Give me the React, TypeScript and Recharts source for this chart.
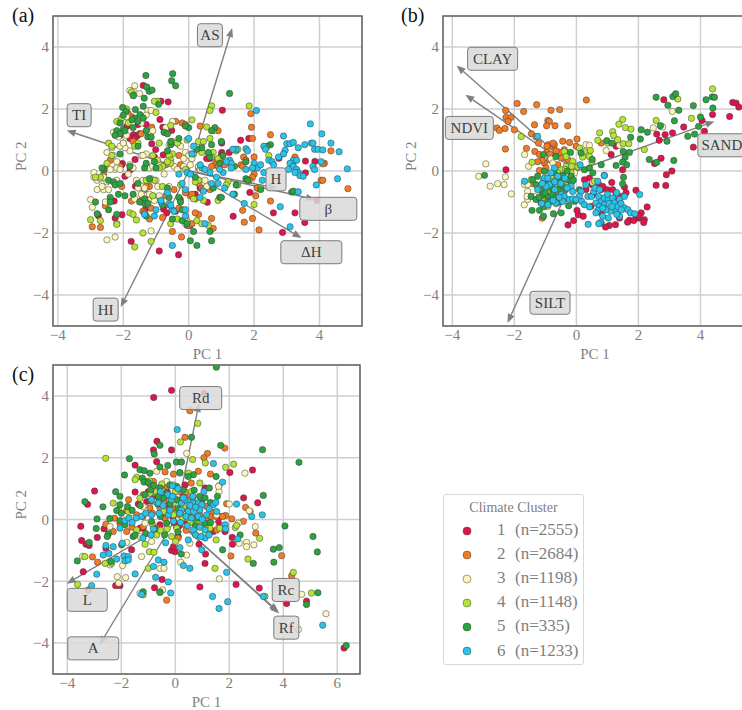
import {
  CartesianGrid,
  ReferenceArea,
  ReferenceDot,
  ReferenceLine,
  Scatter,
  ScatterChart,
  XAxis,
  YAxis,
} from "recharts";

type Pt = [number, number];

const clusterNames = ["1", "2", "3", "4", "5", "6"];
const clusterCounts = ["(n=2555)", "(n=2684)", "(n=1198)", "(n=1148)", "(n=335)", "(n=1233)"];
const clusterColors = ["#e0144c", "#f47b25", "#fdf6bd", "#b4e434", "#2ba340", "#29c4ea"];

const a1: Pt[] = [[-1.39,2.76],[-.85,2.25],[-.63,2.23],[1.03,1.96],[-.88,1.66],[-1.89,1.44],[-.79,1.41],[-.52,1.31],[-1.69,1.17],[-1.57,1.14],[-1.5,1.2],[-1.13,.88],[-1.01,.69],[-1.64,.37],[-2.03,.24],[-1.79,.04],[-.78,.52],[1.01,.9],[1.59,.99],[1.84,1.05],[1.01,.6],[1.24,.6],[.65,.4],[2.76,.41],[3.57,.32],[3.86,.31],[3.57,-.06],[1.87,-.69],[2.11,-.55],[.57,-1.01],[1.36,-1.46],[2.59,-1.35],[3.25,-1.35],[3.55,-1.66],[2.87,-1.98],[3.92,-.95],[-.9,-2.58],[-.31,-2.7],[-1.76,-2.27],[-2.28,-.97],[-2.25,-1.52],[-2.04,-1.41],[-2.76,-1.44],[-.77,-1.23],[.04,-1.76],[.43,-.62],[.35,-.55],[-1.63,-.49],[-1.95,-.17],[-1.28,-.92],[-1.33,-1.25],[-.4,-1.3],[-.67,-1.35],[-.26,-.92],[-2.1,1.15],[-1.8,1.05],[-1.65,1.05],[-1.55,1.5],[-1.3,1.5],[-1.05,.45],[-2.05,.2],[-.1,-1.55],[-.05,-1.75],[.2,-.75],[.55,.4],[1,.5]];
const a2: Pt[] = [[1.9,1.85],[1.92,1.41],[2.5,1.17],[.35,1.45],[-.4,1.6],[-.2,1.55],[-.1,1.5],[-1.13,1.41],[-1.75,1.75],[-1.85,1.85],[-.75,1.25],[.9,1.3],[1.95,1.05],[1.68,.45],[1.75,.35],[1.6,.2],[2,.45],[3.25,.45],[3.2,.3],[4.35,.65],[4.15,.25],[4.1,.23],[4.05,-.3],[4.1,-.3],[4.87,-.57],[2,-.1],[1.95,-.2],[1.85,-.3],[.3,.1],[2.05,-.8],[2.1,-.55],[2.5,-.97],[1.65,-1.27],[1.7,-1.65],[1.95,-1.53],[2.15,-1.9],[.7,-1.53],[.75,-1.85],[-.5,-1.95],[-.22,-2.13],[-2.95,-1.8],[-2.7,-1.82],[-2.55,-1.12],[-1.75,-.97],[-1.45,-.95],[-1.4,-1.3],[-1.35,-1.35],[-1.2,-1.55],[-.3,-1.2],[.05,-.8],[-.1,-.7],[.1,-.75],[.2,-.9],[.4,-.55],[.45,-.6],[.3,-1.4],[.2,-1.35],[0,-1.75],[.1,-1.7],[-.45,-.6],[-.7,-.8],[-2.6,-.1],[-2.55,.1],[-2.05,-.5],[-1.2,-.5],[-1.35,-.6],[-1.3,-.5],[-.25,.2],[.95,.35],[1,.3],[.85,.3],[1.1,.2],[.8,.2],[.65,-.6],[.9,.15],[1.25,.3],[1.65,.15],[.3,-.4],[-2.4,.35],[-2.1,.15],[-.6,-1.1],[-.8,-1.5],[-.95,-.85],[-1.15,-1.2],[-.7,.2],[-.3,.5],[.7,.15],[-2,.9],[-1.45,1.2],[-1.7,.95]];
const a3: Pt[] = [[-3,-.92],[-2.95,-1.17],[-2.9,-.2],[-2.8,-.3],[-2.9,-.05],[-2.8,-.6],[-2.6,-.6],[-2.65,-.5],[-2.55,-1],[-2.5,-.35],[-2.45,-.6],[-2.25,.05],[-2.2,.1],[-2.1,.05],[-2.2,-.3],[-2.3,.5],[-2.2,.3],[-2.5,-2.22],[-2.25,-2.13],[-1.15,-1.93],[-1.25,-.95],[-1.15,-.9],[-1.1,-.8],[-1.05,-.95],[-1.45,-.75],[-1.35,-.55],[-1.6,-.3],[-1.4,-.3],[-1.15,-.25],[-1.25,-.3],[-1,-.3],[-.95,-.5],[-1.2,.1],[-1.1,.15],[-1.45,.5],[-1.3,.55],[-1.4,.5],[-1.8,.65],[-1.95,.75],[-2.1,.8],[-1.7,2.6],[-1.8,2.6],[-1.65,2.75],[-1.5,2.5],[-1.25,1.95],[-1.15,1.95],[-1.3,1.8],[-1.9,1.75],[-1.45,1.55],[-1.1,1.3],[-.5,1.6],[-.7,1.4],[-.3,.85],[-.25,.8],[-.6,.85],[-.1,.6],[0,.5],[.1,.55],[-.15,.4],[-.45,.15],[-.35,.05],[.1,.4],[.25,.8],[.4,.9],[.3,.15],[.35,.05],[.5,-.3],[.55,-.5],[-2.3,1.25],[-2.15,1.1],[-1.9,1.15],[-2,.9],[-.6,-.5],[-1.8,.2],[-1.65,-.9],[-2.4,.05],[-2.7,-.25],[-2.6,-.2],[-1.85,-.1],[-1.7,.1],[-1.55,-.55],[-1.2,-.75],[-.9,-.8],[-.75,-.1],[-.6,.25],[-.15,.15],[.05,.2],[-2.35,.75],[-2.5,.6]];
const a4: Pt[] = [[1.85,2.1],[.7,2.1],[.65,1.95],[-.95,2.25],[-1.05,2.25],[-1,1.89],[.1,1.65],[.55,1.42],[.75,1.3],[-.55,1.47],[.65,1.05],[-.5,.9],[-.5,.95],[.3,.95],[.45,.95],[.75,.6],[.7,.45],[-.5,.55],[-.6,.5],[-.55,.35],[-.9,.9],[-2.2,1.6],[-2.05,1.7],[-1.75,2.55],[-1.7,2.45],[-1.9,2],[-2.45,.9],[-2.35,.8],[-2.35,.5],[-2.5,.25],[-2.7,-.2],[-2.85,-.2],[-3,-1.57],[-2.7,-1.6],[-2.2,-1.7],[-2.2,-1.72],[-1.8,-1.35],[-1.7,-1.4],[-1.6,-1.58],[-1.65,-2.45],[-1.4,-2],[-1.15,-2.27],[-1.1,-.8],[-1.05,-.3],[-1.2,-.3],[-1.3,-.3],[-1.1,.5],[-.8,.15],[-.95,.35],[-.05,1],[-.1,.05],[.3,-.3],[.2,-.35],[-.8,-.5],[-.35,-1.55],[-.05,-1.6],[.25,-1.6],[-.55,-1.7],[-.1,-1.7],[.4,-1.7],[.6,-1.75],[.9,-.95],[1.2,-.35],[1.5,-.45],[2,-1.08],[1.15,-.45],[1.45,.65],[1.5,.7],[2.45,.5],[2.2,-.55],[-.55,.25],[-.9,.1],[-1.55,.9],[-1.65,.8],[-1.85,1.55],[-.35,.9],[.15,.55],[.4,.6],[.9,.4],[-.65,.3],[-.25,-.45],[.15,-.9],[.45,-.95]];
const a5: Pt[] = [[-1.31,3.08],[-.49,3.14],[-.52,2.91],[-.4,2.75],[1.25,2.5],[-1.28,2.71],[-1.21,2.57],[-1.12,2.61],[-1.69,2.43],[-1.36,2.35],[-1.39,2.09],[-.92,2.15],[-2.02,2.05],[-1.92,1.92],[-1.63,1.98],[-1.49,1.82],[-1.39,1.71],[-1.65,1.7],[-2,1.8],[-1.73,1.65],[-1.55,1.6],[-2.1,1.55],[-1.7,1.4],[-2,1.35],[-2.2,1.3],[-2.1,1.2],[-2.25,1.15],[-1.95,1.3],[-1.3,1.3],[-1.25,1.1],[-1.15,1.1],[-.75,1.25],[-.65,1.2],[-.55,.85],[-.3,1.05],[0,1.4],[-.1,1.45],[.8,1.4],[.7,1.3],[.7,.85],[1,.95],[2.5,.85],[2.4,.8],[1.75,.3],[.65,.45],[.95,.25],[-1.55,.8],[-2.1,.55],[-1.35,.1],[-2.6,.05],[-2.65,.1],[-2.45,-.3],[-2.3,-.35],[-2.25,-.45],[-2.1,-.4],[-1.55,-.4],[-1.7,-.75],[-1.95,-.8],[-2.4,-.85],[-2.4,-1],[-2.45,-1.25],[-2.85,-1],[-2.8,-1.38],[-2.2,-1.4],[-1.35,-.9],[-1.35,-1.05],[-1.5,-1],[-1.25,-1.05],[-1.3,-1.45],[-.65,-.55],[-.3,-.85],[-.25,-1],[-.2,-1.25],[-.2,-1.6],[-.05,-1.7],[.15,-1.95],[.05,-2.25],[.25,-2.4],[.7,-2.25],[.65,-1.95],[.75,-.55],[.95,-.85],[1,-.85],[1.4,-.75],[1.45,-.45],[1.75,-.25],[1.8,-.3],[2.2,-.6],[3.15,-.68],[3.2,-.65],[.2,-.2],[-.55,.95],[.4,.75],[-1.2,-.25],[-1.05,.3],[-1.3,.25],[-.8,-1.1],[-.6,-.85],[-.5,-1.55],[-2.15,-.75],[-1.8,.15],[-1,.1],[-.65,.65],[.25,.7],[.6,.6],[1.05,.5],[1.4,.15]];
const a6: Pt[] = [[3.72,1.52],[4.07,1.2],[2.9,1.13],[2.07,1.95],[3.75,.9],[3.8,.9],[3,.88],[3.1,.88],[3.2,.92],[3.35,.75],[3.55,.85],[3.85,.7],[3.95,.7],[4.1,.68],[4.35,.9],[4.6,.62],[2.95,.67],[2.3,.8],[2.35,.7],[1.75,.72],[1.45,.7],[1.35,.7],[1.8,.65],[2.9,.55],[2.75,.45],[3.2,.35],[3.3,.35],[3.1,.25],[3.2,.15],[3.3,.05],[3.35,-.05],[3.4,-.15],[3.25,-.05],[3.05,.05],[3.5,-.17],[3.35,-.67],[3.9,-.45],[4.05,.3],[3.8,.15],[3.85,.05],[4.85,.07],[4.55,-.25],[2.45,.35],[2.55,.3],[2.6,.2],[2,.25],[2.1,.1],[2.2,.2],[1.95,.1],[2.3,-.05],[2.25,-.3],[1.75,.05],[1.25,.35],[1.3,.25],[1.3,.1],[1.05,-.05],[.85,-.2],[.7,-.4],[.9,-.4],[1.1,-.55],[1.35,-.75],[1.7,-1.05],[2.8,-1.15],[3.1,-1.8],[.4,.1],[.35,.2],[.15,.8],[0,1.05],[.1,.55],[-.65,-.7],[-.6,-1.05],[-.85,-1],[-.5,-1.25],[-.55,-1.1],[-.1,-.6],[-.2,-.4],[.35,-.85],[.45,-.65],[-.1,-1.25],[-.1,-1.45],[.5,-1.7],[-.5,-2.4],[-1,-1.25],[-1.05,-1.45],[-1.35,-1.4],[-.85,-.95],[-.45,-1.3],[.5,.05],[.65,-.05],[.95,.05],[1.15,.3],[-.3,-.1],[-.05,-.05],[.05,-.1]];

const b1: Pt[] = [[5.04,2.21],[5.15,2.19],[5.24,2.06],[4.94,1.76],[2.82,2.3],[4.39,1.82],[4.05,1.63],[3.46,1.42],[4.13,1.28],[3.77,.77],[3.1,1.23],[2.86,1.17],[2.59,1.19],[2.73,1.44],[2.67,.99],[2.73,.41],[2.52,.24],[3.08,0],[2.9,-.12],[2.57,-.46],[2.88,-.47],[1.92,-.62],[2.28,-1.16],[2.19,-1.57],[2.17,-1.66],[2.03,-1.52],[1.92,-1.52],[1.71,-1.59],[1.26,-1.73],[1.06,-1.76],[.94,-1.81],[-.27,-1.74],[-.09,-1.6],[.22,-1.46],[.06,-1.41],[.02,-1.27],[.47,-1.14],[.8,-1.35],[-2.27,.04],[1.12,.53],[1.28,.8],[1.55,-.52],[.99,-.6],[1.17,-.6],[1.28,-.71],[1.14,-.37],[.9,-.14],[.42,-.23],[.26,-.28],[.5,-.44],[.31,-.6],[.8,-.6],[1.49,.04],[1.44,-.82],[1.23,-.92],[1.39,-1.52],[.8,-1.68],[2.09,-1.35],[.7,-.4],[.85,-.5],[.55,-.75],[.7,-1.05],[1.65,-1.65],[1.85,-1.6],[2,-1.45],[1.6,-.7]];
const b2: Pt[] = [[.32,2.29],[-1.91,2.18],[-1.28,2.14],[-.82,1.96],[-.54,1.98],[-1.7,1.92],[-2.28,1.95],[-2.27,1.73],[-2.11,1.73],[-2.2,1.6],[-2.56,1.39],[-2.48,1.31],[-2.3,1.37],[-2,1.33],[-1.35,1.49],[-.92,1.63],[-.87,1.6],[-.96,1.46],[-.69,1.46],[-.28,1.46],[-1.45,1.2],[-1.22,.9],[-2.29,.71],[-1.61,.73],[-.82,.8],[-.71,.85],[-.44,.96],[-.22,.92],[.02,1.03],[-.01,.8],[-1.34,.63],[-1.19,.53],[-.95,.6],[-.87,.37],[-1.03,.26],[-1.19,.02],[-.98,.1],[-.39,.69],[-.49,.42],[-.28,.37],[.8,.9],[-1.1,-1.52],[-1.45,-.4],[-1.3,1.1],[-.9,.85],[-.6,.2],[-.7,.5],[-.85,.55],[-.55,.6],[-.95,.8],[-.75,.9],[-1.1,.35],[-1.25,.3],[-.65,.65]];
const b3: Pt[] = [[-2.92,.23],[-3.15,-.17],[-2.29,-.19],[-2.54,-.41],[-2.33,-.44],[-2.78,-.49],[-2.1,-.74],[-1.67,.53],[-1.54,.15],[-1.67,-.44],[-1.57,-.66],[-1.68,-1.09],[-1.57,-.92],[-1.35,-.82],[-.82,.39],[-.76,.26],[.31,.85],[.42,.83],[.96,.66],[1.39,.83],[3.09,1.92],[2.48,1.39],[2.78,1.42],[-1.57,-.44],[-1.59,-.82],[.53,-.37],[-.06,-.06]];
const b4: Pt[] = [[4.39,2.65],[3.27,2.32],[3.71,1.7],[2.57,1.63],[1.49,1.66],[1.37,1.51],[1.58,1.4],[1.76,1.35],[.75,1.23],[1.17,1.27],[1.2,1.14],[1.33,1.01],[1.51,.88],[1.69,.88],[.69,.99],[1.01,.9],[2.19,.69],[-1.78,1.11],[-1.43,.28],[-.39,.63],[.1,.74],[.26,.63],[.45,.66],[.42,.47],[-.12,.31],[-.33,.47],[-.49,.04],[-.6,-.06],[-.44,-.17],[-.66,-.28],[-.82,-.17],[-.92,-.28],[-.28,-.33],[-.71,-.49],[-.87,-.71],[-1.03,-.66],[-1.14,-.82],[-.76,-.92],[-.55,-.76],[-.92,-1.14],[-.17,-.06],[-.33,.15],[.04,.15],[.58,-.33],[-1.46,-.28],[-.5,-.55],[-.65,-.65],[-.8,-.45],[-1,-.55],[-.95,-.9],[-.65,-1.05],[-.45,-.95],[-.35,-.4],[-.15,-.35],[-.55,-.35],[-.35,.05],[-.15,.15],[.2,.45],[.5,.3]];
const b5: Pt[] = [[-2.96,-.14],[2.57,2.38],[3.11,2.4],[3.2,2.49],[2.95,2.12],[3.3,1.96],[3.77,2.11],[4.18,2.3],[4.38,2.39],[4.45,2.38],[4.4,2.03],[4,1.74],[3.16,1.62],[2.71,1.46],[3.94,1.44],[3.59,1.12],[3.81,1.19],[2.92,.96],[2.29,1.25],[2.09,1.33],[2.06,1.03],[1.75,1.09],[.98,.98],[1.14,.9],[1.51,.63],[1.71,.6],[1.57,.44],[1.62,.2],[1.49,.29],[1.28,.18],[2.35,.37],[2.59,.28],[3.14,.34],[1.52,-.2],[1.49,-.41],[.8,.2],[.51,.37],[.15,.58],[-.19,.6],[-1.06,.53],[-.66,.47],[.26,.04],[.42,.1],[.53,-.06],[-1.41,-.28],[-1.25,-.17],[-1.03,-.01],[-1.3,-.44],[-1.46,-.82],[-1.3,-.92],[-1.43,-1.27],[-1.19,-1.27],[-1.06,-1.46],[-.74,-1.38],[-.49,-1.35],[-.25,-1.12],[-.06,-.98],[-1.14,-.6],[-.92,-.82],[-.76,-.6],[-.6,-.6],[-.44,-.49],[-.28,-.28],[-.17,-.17],[-.55,-.17],[-.71,-.06],[-1.14,-1.03],[-.92,-.98],[-1.09,-.76],[-.76,-.76],[.1,-.6],[-1,-.4],[-.85,-.5],[-.7,-.35],[-.5,-.35],[-.35,-.6],[-.65,-.85],[-.85,-1],[-1.05,-1.15],[-1.2,-.85],[-1,-.7],[-.55,-1],[-.35,-.9],[-.2,-.5],[-1.05,-.3],[-.45,-.15],[-.3,0],[-.1,-.3]];
const b6: Pt[] = [[-1.67,-.33],[-1.25,1.12],[.12,.2],[-.71,.1],[-.82,-.06],[-1.03,-.23],[-.92,-.23],[-.87,-.44],[-1.25,-.6],[-.98,-.49],[-.6,-.17],[-.37,-.23],[-.17,-.49],[-.12,-.66],[-.49,-.76],[-.39,-.82],[-.23,-.92],[-.12,-.9],[-1.12,-1.05],[-.92,-1.09],[-.66,-1.03],[-.44,-.98],[.15,-.66],[.1,-.82],[-.01,-.92],[.17,-.98],[.26,-1.09],[.42,-1.16],[.37,-.82],[.49,-.82],[.69,-.33],[.9,-.15],[.56,-.66],[.72,-.82],[.8,-.98],[.9,-.87],[1.03,-.92],[1.17,-.87],[.63,-1.03],[.74,-1.14],[.9,-1.09],[1.05,-1.05],[1.23,-1.03],[1.39,-.92],[1.55,-.82],[2.04,-.76],[.69,-1.27],[.63,-1.35],[.85,-1.46],[1.03,-1.52],[1.23,-1.25],[1.33,-1.14],[1.44,-1.05],[1.55,-1.19],[1.66,-1.25],[1.74,-1.35],[1.88,-1.38],[1.39,-1.46],[.78,-1.66],[.72,-1.7],[.38,-1.72],[-.7,-.35],[-.5,-.4],[-.3,-.55],[-1.1,-.4],[-.7,-.6],[-.55,-.85],[-.75,-.95],[.6,-.55],[.3,-.45],[.75,-.6],[1,-.75],[1.3,-.7],[1.3,-1.4],[1.1,-1.3],[.95,-1.25],[.85,-1.2],[1.45,-1.25],[1.15,-1.15]];

const c1: Pt[] = [[-.14,4.18],[-.8,3.95],[1.07,4.08],[-.68,2.53],[-.81,2.25],[-.14,2.25],[-.69,1.87],[-1.49,1.76],[2.86,1.6],[2.02,1.52],[-2.99,.92],[-3.25,.49],[-1.37,.5],[-1.49,.89],[2.53,.7],[3.05,.54],[-3.5,-.22],[-3.47,-.68],[-3.31,-.8],[-3.19,-.84],[-2.89,-.58],[-2.64,-.3],[-3.41,-1.69],[-2.21,-2.14],[-2.05,-2.14],[-.77,-2.21],[-.49,-1.94],[.91,-2.18],[2.25,-2.1],[3.11,-2.22],[4.12,-2.72],[4.86,-2.64],[6.25,-4.16],[-.14,-1],[-.01,-1.04],[1.1,-1.42],[1.12,-1.12],[2.11,-.58],[2.12,-.8],[.88,-.8],[-1.31,-.28],[-.32,.26],[-.2,.2],[.05,-.23],[.11,-.55],[-.07,-.88],[1.65,.1],[1.1,1.02],[.36,1.12],[-.44,.69],[-1.06,.58],[-1.62,-.98],[-2.57,-.93],[1.84,-.39],[1.41,-.39],[-.57,-.17],[-1.19,-.28],[.36,-.06],[-.26,.48],[-.1,.1],[-.05,-.1],[.15,-.2],[-.4,.05],[.3,.8],[-.8,.7],[-1,.9],[-.3,.9],[1.25,.1],[1.6,-.1]];
const c2: Pt[] = [[.54,3.52],[.36,2.66],[1.83,2.31],[1.19,2.14],[1.06,2],[.85,1.56],[1.3,1.47],[-.38,1.54],[-.07,1.47],[-.81,1.23],[.59,1.18],[-1.73,.64],[-1.8,.29],[-2.25,.04],[-2.57,-.15],[-2.3,-.39],[-3.07,-1.21],[-2.88,-1.38],[-3.22,-2.28],[-.32,-2.61],[2.6,.39],[1.9,.51],[2.77,.26],[2.52,-.06],[2.98,-.44],[2.06,-1.18],[3.94,-1.17],[4.31,-1.82],[2.09,.02],[1.86,.13],[1.41,.23],[1.16,.42],[1.16,.04],[.91,.15],[-.94,.37],[-1.06,1.23],[-1.19,.8],[.17,.91],[.54,.8],[-.32,.69],[-.57,.37],[-.38,.04],[-.69,-.28],[-1.43,.15],[-2.05,-.12],[-1.8,-.39],[-1.19,-.23],[.73,-.12],[1.53,-.34],[-.32,1.07],[-.07,.75],[.23,.53],[.42,.1],[.91,-.17],[1.22,-.28],[1.78,-.28],[-.3,.2],[-.1,.35],[.15,.15],[.35,.35],[.65,.65],[.95,.7],[1.3,.1],[1.5,.1],[1.75,.1],[-.75,.85],[-.95,1.15],[-.5,1.1],[-.6,.6],[-.85,.2],[-1.2,.1],[-1.6,-.25],[.1,-.6],[.4,-.35]];
const c3: Pt[] = [[2.58,1.5],[.42,2.14],[1.62,1.09],[1.62,.91],[2,.5],[2.74,.28],[2.96,-.23],[2.37,-.77],[2.64,-.74],[2.64,-.88],[2.91,-.82],[1.63,-1.92],[4.68,-2.42],[5.58,-3.05],[4.56,-3.56],[.2,-1.38],[-.57,-1.58],[-.42,-1.58],[-2.15,-1.85],[-1.84,-1.88],[-2.1,-2.06],[-1.25,-1.2],[-1.95,-1.49],[-3.43,-1.19],[-2.48,-1.42],[-2.42,-1.47],[-1.31,-2.39],[-.47,-2.28],[-.69,1.56],[.17,1.5],[-.32,1.23],[-.07,1.12],[-.69,1.02],[.3,.69],[-.05,.75],[-1.19,.42],[-.81,.58],[-.44,.31],[-1.56,.04],[-1.12,-.12],[-2.42,-.23],[-1.8,-.74],[-.88,-.71],[-1.31,-.55],[.42,-1.15],[1.53,.15],[1.6,1.07],[.91,-.39],[1.41,-.17],[.54,-.77],[2.33,-.12]];
const c4: Pt[] = [[-2.58,1.98],[.19,2.51],[.83,3.11],[.64,1.94],[1.11,1.83],[1.86,1.69],[2.16,1.79],[.91,1.18],[.49,1.5],[-1.43,1.37],[-1.49,1.29],[-2.3,.53],[-2.11,.31],[-3.62,-2.1],[-3.35,-1.2],[-2.6,-1.42],[-2.36,-1.42],[4.37,-1.71],[5.04,-2.38],[3.32,-2.49],[2.69,-1.28],[1.47,-1.58],[3.12,-.61],[2.22,-.26],[2.27,-.19],[1.51,-.66],[1.28,-.28],[.91,-.06],[.67,.04],[.27,.04],[.05,-.28],[-.14,-.55],[.01,-.71],[-.69,-.5],[-1.12,-.8],[-.96,-1.04],[-.79,-1.06],[-1,-1.58],[-1.19,-2.44],[-.57,-2.34],[-1.43,-.34],[-1.74,.26],[-1.31,.69],[-.94,.85],[-.44,.26],[-.07,.15],[.6,.91],[.36,.91],[-.07,.53],[1.65,-.28],[.2,.2],[.45,.05],[.55,-.1],[.8,-.05],[1.1,-.25],[-.3,-.3],[-.55,-.35],[-.85,-.15],[-.2,.6],[-.5,1.15],[-.95,1.25],[-.7,.9],[0,.9],[.3,.4]];
const c5: Pt[] = [[1.52,4.93],[.6,2.66],[1.68,2.4],[3.23,2.26],[4.58,1.85],[-.57,2.4],[-.78,2.12],[.04,1.86],[.23,1.86],[-.28,1.75],[-.57,1.7],[-1.7,1.97],[-1.88,1.44],[-1.31,1.61],[-1.15,1.58],[-.94,1.5],[-1.22,1.34],[-1.16,1.21],[-2.21,.9],[-2.05,.75],[-1.77,.42],[-2.05,.48],[-2.17,.29],[-3.35,.58],[-2.68,.41],[-2.43,.03],[-2.9,.02],[-2.93,-.29],[-2.48,-.46],[-2.52,-.55],[-3.19,-.74],[-3.63,-1.34],[-2.38,-1.36],[-1.56,-.55],[-1.99,-.82],[-1.19,-2.34],[-.57,-2.36],[.22,-1.12],[1.75,-.98],[2.4,-.5],[3.26,.78],[4.06,-.21],[5.1,-.55],[5.26,-1.05],[3.63,-.96],[3.85,-.91],[3.65,-1.38],[2.89,-1.42],[5.28,-2.37],[4.86,-2.75],[6.33,-4.08],[1.51,1.39],[.67,1.45],[.17,1.52],[.48,1.39],[-.57,1.02],[-.91,.96],[-1.12,.8],[-.2,1.12],[.05,1.07],[-.44,.69],[-.63,.75],[-.32,.85],[1.56,.75],[.98,.53],[.05,.64],[-.88,-.06],[-1.49,-.5],[-1.86,-.17],[-2.05,-.04],[1.26,1.02],[1.1,-.12],[.79,.04],[-.32,-.12],[-.8,1.1],[-1,1.2],[-.65,.5],[-.9,.6],[-1.3,.45],[-.2,.5],[.1,.35],[.3,.95],[.7,.95],[.9,.75],[1.1,.7],[1.3,.55],[.5,.15],[.75,-.2],[1.3,-.1],[.1,-.4],[-.4,-.5],[-.75,-.3],[-1.1,-.45],[-.55,.1],[-1.6,.3],[-2,.2]];
const c6: Pt[] = [[.07,2.91],[1.41,1.81],[1.75,1.21],[1.06,.91],[-.1,1.09],[-.27,.8],[-.14,.64],[-.63,.53],[-.88,.64],[-.88,.15],[.23,.53],[.48,.58],[.36,.64],[.67,.53],[.85,.53],[.98,.48],[1.16,.15],[.23,.31],[.48,.26],[.67,.26],[.91,.31],[.17,.2],[2.27,.5],[2.83,.1],[3.22,.15],[1.85,-.17],[1.86,-.3],[2.31,-.63],[1.9,-1.71],[1.94,-2.66],[1.62,-2.88],[1.38,-2.49],[.54,-1.58],[.3,-1.49],[-.17,-2.38],[-.26,-2.02],[-.73,-1.87],[-.81,-1.52],[-.63,-1.31],[-.42,-1.38],[-1.49,-1.76],[-1.9,-1.18],[-1.74,-1.2],[-1.86,-1.34],[-1.74,-1.31],[-2.17,-1.28],[-2.46,-1.1],[-2.67,-1.15],[-2.57,-.84],[-2.3,-.88],[-1.96,-.77],[-1.25,-2.42],[-3.1,-2.14],[-2.91,-1.77],[-2.05,-.28],[-1.86,-.03],[-1.72,.04],[-1.25,.1],[-.81,-.31],[-.36,-.75],[.17,-.91],[.48,-.66],[.67,-.34],[.91,-.25],[1.1,-.34],[1.1,-.6],[.98,-.98],[3.26,-2.49],[5.46,-3.42],[1.53,.26],[1.41,.48],[-.07,-.06],[-.26,.15],[.3,.7],[.55,.45],[.75,.4],[.4,.1],[.6,.05],[.85,.1],[1,0],[.2,-.1],[.45,-.2],[.75,-.5],[.95,-.55],[1.25,-.5],[1.5,.55],[1.25,.35],[-.2,.3],[-.45,.45],[-.6,.2],[-1.1,.2],[-1.45,.05],[-1.6,-.1],[-.55,.9],[-.1,.75],[.1,1],[.65,.75],[-.9,-.5],[-1.2,-.6]];

// arrow tips in PC units, all arrows start at the origin
const aArrows: Pt[] = [[1.33,4.61],[-3.73,1.31],[-2.08,-4.39],[2.7,-.55],[3.86,-.92],[3.45,-2.16]];
const bArrows: Pt[] = [[-3.86,3.4],[-3.58,2.46],[-2.22,-4.9],[4.45,1.6]];
const cArrows: Pt[] = [[.88,3.77],[-4.02,-2.08],[-2.81,-4.06],[3.81,-2.98],[3.85,-3.04]];

const aLabels = ["AS", "TI", "HI", "H", "β", "ΔH"];
const bLabels = ["CLAY", "NDVI", "SILT", "SAND"];
const cLabels = ["Rd", "L", "A", "Rc", "Rf"];

// label box centres in PC units
const aLabelPos: Pt[] = [[.65,4.38],[-3.35,1.8],[-2.54,-4.47],[2.67,-.27],[4.27,-1.22],[3.75,-2.62]];
const bLabelPos: Pt[] = [[-2.7,3.62],[-3.45,1.39],[-.85,-4.25],[4.69,.83]];
const cLabelPos: Pt[] = [[.94,3.93],[-3.26,-2.6],[-3.04,-4.17],[4.09,-2.28],[4.11,-3.5]];

const aLabelWidths = [25, 24, 25, 20, 57, 61];
const bLabelWidths = [50, 48, 40, 48];
const cLabelWidths = [42, 40, 51, 27, 25];

const SERIF = "'Liberation Serif', serif";
const GREY = "#7f7f7f";

const minus = (v: number) => String(v).replace("-", "\u2212");

function Arrow({ x1, y1, x2, y2 }: any) {
  const ang = Math.atan2(y2 - y1, x2 - x1);
  const len = 9;
  const half = 3.6;
  const bx = x2 - len * Math.cos(ang);
  const by = y2 - len * Math.sin(ang);
  const nx = -Math.sin(ang) * half;
  const ny = Math.cos(ang) * half;
  return (
    <g>
      <line x1={x1} y1={y1} x2={bx} y2={by} stroke="#808080" strokeWidth={1.4} />
      <polygon points={`${x2},${y2} ${bx + nx},${by + ny} ${bx - nx},${by - ny}`} fill="#808080" />
    </g>
  );
}

function LabelBox({ cx, cy, text, width }: any) {
  return (
    <g>
      <rect
        x={cx - width / 2}
        y={cy - 11.5}
        width={width}
        height={23}
        rx={3}
        fill="#d9d9d9"
        fillOpacity={0.85}
        stroke="#7a7a7a"
        strokeWidth={1}
      />
      <text
        x={cx}
        y={cy + 5}
        textAnchor="middle"
        fontFamily={SERIF}
        fontSize={15}
        fill="#3f3f3f"
      >
        {text}
      </text>
    </g>
  );
}

function Dot({ cx, cy, fill }: any) {
  return <circle cx={cx} cy={cy} r={3.2} fill={fill} stroke="#3a3a3a" strokeWidth={0.5} />;
}

function Panel({
  left,
  top,
  width,
  height,
  plot,
  xDomain,
  yDomain,
  xTicks,
  series,
  arrows,
  labels,
  labelPos,
  labelWidths,
}: {
  left: number;
  top: number;
  width: number;
  height: number;
  plot: { l: number; t: number; r: number; b: number };
  xDomain: [number, number];
  yDomain: [number, number];
  xTicks: number[];
  series: Pt[][];
  arrows: Pt[];
  labels: string[];
  labelPos: Pt[];
  labelWidths: number[];
}) {
  const tick = { fontSize: 15, fill: GREY, fontFamily: SERIF };
  return (
    <div style={{ position: "absolute", left, top }}>
      <ScatterChart
        width={width}
        height={height}
        margin={{ top: plot.t, right: plot.r, bottom: plot.b - 42, left: plot.l - 50 }}
      >
        <CartesianGrid stroke="#cfcfcf" strokeWidth={1.5} />
        <XAxis
          type="number"
          dataKey="x"
          domain={xDomain}
          ticks={xTicks}
          allowDataOverflow
          interval={0}
          height={42}
          tickSize={0}
          tickMargin={3}
          axisLine={false}
          tickLine={false}
          tick={tick}
          tickFormatter={minus}
          label={{ value: "PC 1", position: "insideBottom", offset: 9, fontSize: 15, fill: GREY, fontFamily: SERIF }}
        />
        <YAxis
          type="number"
          dataKey="y"
          domain={yDomain}
          ticks={[-4, -2, 0, 2, 4]}
          allowDataOverflow
          interval={0}
          width={50}
          tickSize={0}
          tickMargin={4}
          axisLine={false}
          tickLine={false}
          tick={tick}
          tickFormatter={minus}
          label={{ value: "PC 2", angle: -90, position: "insideLeft", offset: 18, fontSize: 15, fill: GREY, fontFamily: SERIF }}
        />
        {series.map((pts, i) => (
          <Scatter
            key={clusterNames[i]}
            name={clusterNames[i]}
            data={pts.map(([x, y]) => ({ x, y }))}
            fill={clusterColors[i]}
            shape={Dot}
            isAnimationActive={false}
          />
        ))}
        <ReferenceArea
          x1={xDomain[0]}
          x2={xDomain[1]}
          y1={yDomain[0]}
          y2={yDomain[1]}
          fill="none"
          stroke="#666666"
          strokeWidth={1.5}
        />
        {arrows.map(([x, y], i) => (
          <ReferenceLine
            key={labels[i]}
            segment={[{ x: 0, y: 0 }, { x, y }]}
            ifOverflow="visible"
            shape={Arrow}
          />
        ))}
        {labelPos.map(([x, y], i) => (
          <ReferenceDot
            key={labels[i]}
            x={x}
            y={y}
            ifOverflow="visible"
            shape={(p: any) => <LabelBox cx={p.cx} cy={p.cy} text={labels[i]} width={labelWidths[i]} />}
          />
        ))}
      </ScatterChart>
    </div>
  );
}

function PanelTag({ text, x, y }: { text: string; x: number; y: number }) {
  return (
    <div
      style={{
        position: "absolute",
        left: x,
        top: y,
        fontFamily: SERIF,
        fontSize: 20,
        lineHeight: "20px",
        color: "#111",
      }}
    >
      {text}
    </div>
  );
}

function ClusterLegend() {
  return (
    <div
      style={{
        position: "absolute",
        left: 443,
        top: 494,
        width: 141,
        height: 171,
        border: "1.5px solid #d8d8d8",
        borderRadius: 3,
        boxSizing: "border-box",
        fontFamily: SERIF,
        color: GREY,
      }}
    >
      <div style={{ position: "absolute", left: 0, right: 0, top: 4, textAlign: "center", fontSize: 14, lineHeight: "18px" }}>
        Climate Cluster
      </div>
      {clusterNames.map((name, i) => (
        <div key={name}>
          <svg width={10} height={10} style={{ position: "absolute", left: 18, top: 30.5 + i * 24.1 }}>
            <circle cx={5} cy={5} r={4} fill={clusterColors[i]} stroke="#444" strokeWidth={0.5} />
          </svg>
          <span style={{ position: "absolute", left: 53, top: 25 + i * 24.1, fontSize: 17, lineHeight: "20px" }}>{name}</span>
          <span style={{ position: "absolute", left: 71, top: 25 + i * 24.1, fontSize: 17, lineHeight: "20px" }}>{clusterCounts[i]}</span>
        </div>
      ))}
    </div>
  );
}

export default function App() {
  return (
    <div style={{ position: "absolute", left: 0, top: 0, width: 742, height: 710, overflow: "hidden", background: "#fff" }}>
      <Panel
        left={0}
        top={0}
        width={371}
        height={368}
        plot={{ l: 53, t: 16, r: 9, b: 42 }}
        xDomain={[-4.15, 5.3]}
        yDomain={[-5, 5]}
        xTicks={[-4, -2, 0, 2, 4]}
        series={[a1, a2, a3, a4, a5, a6]}
        arrows={aArrows}
        labels={aLabels}
        labelPos={aLabelPos}
        labelWidths={aLabelWidths}
      />
      <Panel
        left={390}
        top={0}
        width={366}
        height={368}
        plot={{ l: 53, t: 16, r: 9, b: 42 }}
        xDomain={[-4.3, 5.5]}
        yDomain={[-5, 5]}
        xTicks={[-4, -2, 0, 2, 4]}
        series={[b1, b2, b3, b4, b5, b6]}
        arrows={bArrows}
        labels={bLabels}
        labelPos={bLabelPos}
        labelWidths={bLabelWidths}
      />
      <Panel
        left={0}
        top={349}
        width={371}
        height={367}
        plot={{ l: 53, t: 16, r: 11, b: 42 }}
        xDomain={[-4.53, 6.84]}
        yDomain={[-5, 5]}
        xTicks={[-4, -2, 0, 2, 4, 6]}
        series={[c1, c2, c3, c4, c5, c6]}
        arrows={cArrows}
        labels={cLabels}
        labelPos={cLabelPos}
        labelWidths={cLabelWidths}
      />
      <PanelTag text="(a)" x={12} y={5} />
      <PanelTag text="(b)" x={401} y={5} />
      <PanelTag text="(c)" x={12} y={364} />
      <ClusterLegend />
    </div>
  );
}
